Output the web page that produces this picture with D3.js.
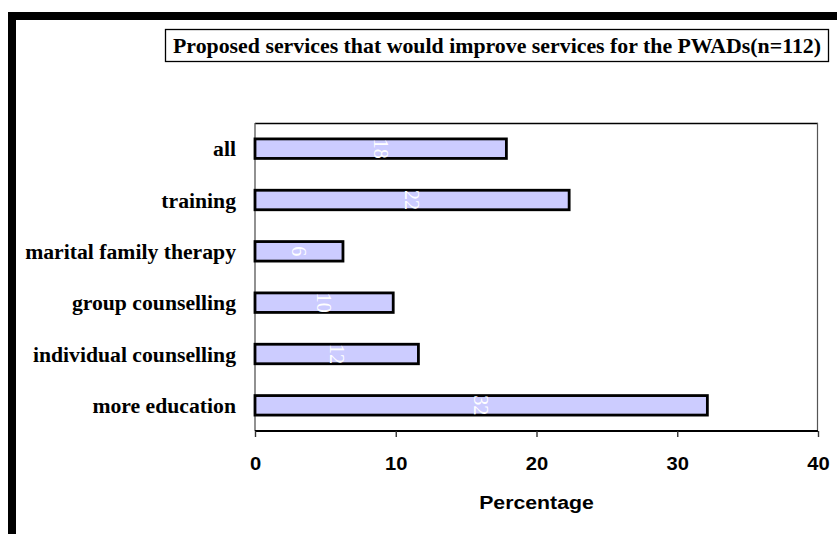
<!DOCTYPE html>
<html>
<head>
<meta charset="utf-8">
<script src="https://cdn.jsdelivr.net/npm/d3@7"></script>
<style>
  html, body { margin: 0; padding: 0; background: #fff; }
  svg { display: block; }
</style>
</head>
<body>
<svg id="chart" width="837" height="534"></svg>
<script>
const title = "Proposed services that would improve services for the PWADs(n=112)";
const categories = ["all", "training", "marital family therapy", "group counselling", "individual counselling", "more education"];
const values = [17.86, 22.32, 6.25, 9.82, 11.61, 32.14];
const xTicks = [0, 10, 20, 30, 40];
const xLabel = "Percentage";

const svg = d3.select("#chart");
const W = 837, H = 534;
const plot = { left: 255, right: 818, top: 123, bottom: 431 };

svg.append("rect").attr("width", W).attr("height", H).attr("fill", "#fff");

// outer thick black frame (top and left)
svg.append("rect").attr("x", 8).attr("y", 12).attr("width", W - 8).attr("height", 8).attr("fill", "#000");
svg.append("rect").attr("x", 8).attr("y", 12).attr("width", 8).attr("height", H - 12).attr("fill", "#000");

// title box
svg.append("rect").attr("x", 165.5).attr("y", 29.5).attr("width", 663).attr("height", 32)
  .attr("fill", "#fff").attr("stroke", "#000").attr("stroke-width", 1.3);
svg.append("text").attr("x", 497).attr("y", 53)
  .attr("text-anchor", "middle")
  .attr("font-family", "'Liberation Serif', 'Times New Roman', serif")
  .attr("font-weight", "bold").attr("font-size", 21)
  .attr("textLength", 648).attr("lengthAdjust", "spacingAndGlyphs")
  .attr("fill", "#000")
  .text(title);

const x = d3.scaleLinear().domain([0, 40]).range([plot.left, plot.right]);
const y = d3.scaleBand().domain(categories).range([plot.top, plot.bottom]).paddingInner(0.62).paddingOuter(0.31);

// plot area border
svg.append("line").attr("x1", plot.left).attr("x2", plot.right).attr("y1", plot.top + 0.5).attr("y2", plot.top + 0.5)
  .attr("stroke", "#000").attr("stroke-width", 1.3);
svg.append("line").attr("x1", plot.right - 0.5).attr("x2", plot.right - 0.5).attr("y1", plot.top).attr("y2", plot.bottom)
  .attr("stroke", "#555").attr("stroke-width", 1.2);
svg.append("line").attr("x1", plot.left).attr("x2", plot.left).attr("y1", plot.top).attr("y2", plot.bottom)
  .attr("stroke", "#555").attr("stroke-width", 1.3);

// bars
svg.append("g").selectAll("rect").data(categories).join("rect")
  .attr("x", x(0))
  .attr("y", d => y(d))
  .attr("width", (d, i) => x(values[i]) - x(0))
  .attr("height", y.bandwidth())
  .attr("fill", "#ccccff")
  .attr("stroke", "#000")
  .attr("stroke-width", 2.8);

// value labels (rotated, white)
svg.append("g").selectAll("text").data(categories).join("text")
  .attr("transform", (d, i) => `translate(${(x(0) + x(values[i])) / 2},${y(d) + y.bandwidth() / 2}) rotate(90)`)
  .attr("text-anchor", "middle")
  .attr("dy", "0.35em")
  .attr("font-family", "'Liberation Serif', 'Times New Roman', serif")
  .attr("font-size", 20)
  .attr("fill", "#fff")
  .text((d, i) => Math.round(values[i]));

// category labels
svg.append("g").selectAll("text").data(categories).join("text")
  .attr("x", 236)
  .attr("y", d => y(d) + y.bandwidth() / 2)
  .attr("dy", "0.36em")
  .attr("text-anchor", "end")
  .attr("font-family", "'Liberation Serif', 'Times New Roman', serif")
  .attr("font-weight", "bold")
  .attr("font-size", 21.7)
  .attr("fill", "#000")
  .text(d => d);

// x axis
const xAxis = d3.axisBottom(x).tickValues(xTicks).tickSize(6).tickPadding(0).tickFormat(d3.format("d"));
const gx = svg.append("g").attr("transform", `translate(0,${plot.bottom})`).call(xAxis);
gx.select(".domain").attr("stroke", "#000").attr("stroke-width", 2.2).attr("d", `M${plot.left},0H${plot.right}`);
gx.selectAll(".tick line").attr("stroke", "#333").attr("stroke-width", 1.4);
gx.selectAll(".tick text")
  .attr("y", 39).attr("dy", 0)
  .attr("transform", "scale(1.12,1)")
  .attr("font-family", "'Liberation Sans', Arial, sans-serif")
  .attr("font-weight", "bold")
  .attr("font-size", 18)
  .attr("fill", "#000");

// x axis title
svg.append("text")
  .attr("transform", `translate(${(plot.left + plot.right) / 2},509) scale(1.12,1)`)
  .attr("text-anchor", "middle")
  .attr("font-family", "'Liberation Sans', Arial, sans-serif")
  .attr("font-weight", "bold")
  .attr("font-size", 19)
  .attr("fill", "#000")
  .text(xLabel);
</script>
</body>
</html>
